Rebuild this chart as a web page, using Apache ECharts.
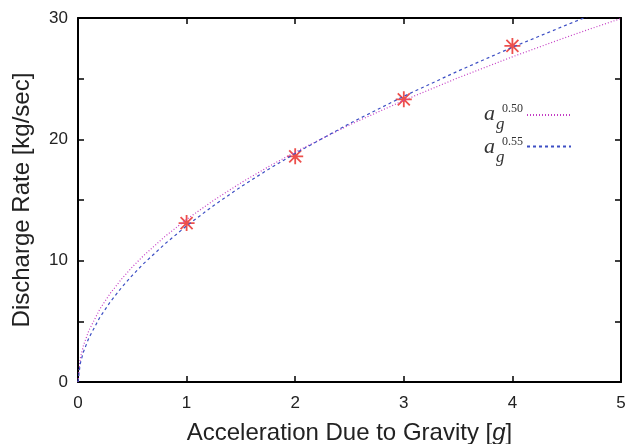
<!DOCTYPE html>
<html>
<head>
<meta charset="utf-8">
<script src="https://cdn.jsdelivr.net/npm/echarts@6/dist/echarts.min.js"></script>
<style>
  html, body { margin: 0; padding: 0; background: #fff; }
  #chart { width: 625px; height: 444px; }
</style>
</head>
<body>
<div id="chart"></div>
<script>
// Measured discharge rate at each gravity level
const measuredG = [1, 2, 3, 4];
const measuredRate = [13.1, 18.6, 23.3, 27.7];

// Fitted curves, sampled along the acceleration axis
const curveG = [0, 0.02, 0.05, 0.1, 0.2, 0.3, 0.4, 0.5, 0.6, 0.8, 1.0, 1.25, 1.5, 1.75, 2, 2.5, 3, 3.5, 4, 4.5, 4.7, 5];
const fit050 = [0, 1.90, 3.00, 4.24, 5.99, 7.34, 8.47, 9.48, 10.38, 11.99, 13.40, 14.98, 16.41, 17.73, 18.95, 21.19, 23.21, 25.07, 26.80, 28.43, 29.05, 29.96];
const fit055 = [0, 1.50, 2.48, 3.63, 5.31, 6.64, 7.77, 8.79, 9.72, 11.38, 12.87, 14.55, 16.09, 17.51, 18.84, 21.30, 23.55, 25.63, 27.59, 29.43, 30.15, 31.15];

// Legend exponents
const exponentLabels = ['0.50', '0.55'];

const pairs = (xs, ys) => xs.map((x, i) => [x, ys[i]]);

const FONT = '"Liberation Sans", Arial, sans-serif';
const SERIF = '"Liberation Serif", "Times New Roman", serif';
const MAGENTA = '#c43cc4';
const BLUE = '#3d4fc4';
const RED = '#e8241f';

// gnuplot-style "*" marker: a plus sign overlaid on a cross
const asterisk = 'path://M-1,0L1,0M0,-1L0,1M-0.75,-0.75L0.75,0.75M-0.75,0.75L0.75,-0.75';

const chart = echarts.init(document.getElementById('chart'), null, { renderer: 'canvas' });

const frameAxis = {
  axisLine: { show: true, onZero: false, lineStyle: { color: '#000', width: 2 } },
  axisTick: { show: true, inside: true, length: 6, lineStyle: { color: '#000', width: 1.5 } },
  splitLine: { show: false }
};

chart.setOption({
  animation: false,
  backgroundColor: '#fff',
  grid: { left: 78, right: 4, top: 18, bottom: 62, containLabel: false, outerBoundsMode: 'none' },
  xAxis: [
    Object.assign({}, frameAxis, {
      type: 'value', min: 0, max: 5, interval: 1, position: 'bottom',
      axisLabel: { color: '#222', fontFamily: FONT, fontSize: 17, margin: 13 },
      name: 'Acceleration Due to Gravity [{i|g}]',
      nameLocation: 'middle', nameGap: 39,
      nameTextStyle: {
        color: '#222', fontFamily: FONT, fontSize: 24,
        rich: { i: { fontStyle: 'italic', fontFamily: FONT, fontSize: 24, color: '#222' } }
      }
    }),
    Object.assign({}, frameAxis, {
      type: 'value', min: 0, max: 5, interval: 1, position: 'top',
      axisLabel: { show: false }
    })
  ],
  yAxis: [
    Object.assign({}, frameAxis, {
      type: 'value', min: 0, max: 30, interval: 5, position: 'left',
      axisLabel: { color: '#222', fontFamily: FONT, fontSize: 17, margin: 10, interval: 1,
        formatter: v => (v % 10 === 0 ? String(v) : '') },
      name: 'Discharge Rate [kg/sec]',
      nameLocation: 'middle', nameGap: 44, nameRotate: 90,
      nameTextStyle: { color: '#222', fontFamily: FONT, fontSize: 24 }
    }),
    Object.assign({}, frameAxis, {
      type: 'value', min: 0, max: 30, interval: 5, position: 'right',
      axisLabel: { show: false }
    })
  ],
  legend: {
    orient: 'vertical',
    right: 48, top: 103,
    align: 'right',
    itemWidth: 44, itemHeight: 14, itemGap: 19,
    itemStyle: { opacity: 0 },
    formatter: () => '',
    data: ['fit050', 'fit055'],
    textStyle: { fontSize: 1 }
  },
  series: [
    {
      name: 'measured', type: 'scatter',
      data: pairs(measuredG, measuredRate),
      symbol: asterisk, symbolSize: 16,
      itemStyle: { color: 'rgba(0,0,0,0)', borderColor: RED, borderWidth: 1.8 },
      z: 3
    },
    {
      name: 'fit050', type: 'line', smooth: false, showSymbol: false, symbol: 'none',
      data: pairs(curveG, fit050), clip: true,
      lineStyle: { color: MAGENTA, width: 1.2, type: [1, 2] },
      itemStyle: { color: MAGENTA },
      z: 4
    },
    {
      name: 'fit055', type: 'line', smooth: false, showSymbol: false, symbol: 'none',
      data: pairs(curveG, fit055), clip: true,
      lineStyle: { color: BLUE, width: 1.2, type: [3, 3] },
      itemStyle: { color: BLUE },
      z: 4
    }
  ],
  graphic: exponentLabels.flatMap((exp, i) => {
    const y = i * 33;
    return [
      { type: 'text', left: 484, top: 103 + y,
        style: { text: 'a', font: 'italic 22px ' + SERIF, fill: '#333' } },
      { type: 'text', left: 496, top: 116 + y,
        style: { text: 'g', font: 'italic 17px ' + SERIF, fill: '#333' } },
      { type: 'text', left: 502, top: 103 + y,
        style: { text: exp, font: '12px ' + SERIF, fill: '#333' } }
    ];
  })
});
</script>
</body>
</html>
